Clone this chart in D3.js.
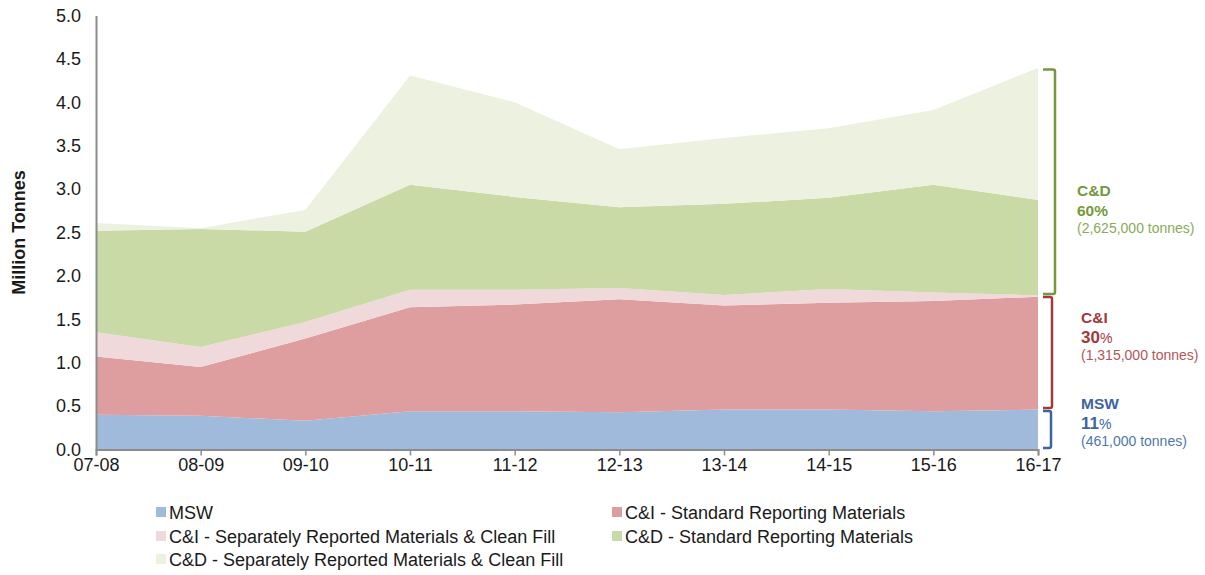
<!DOCTYPE html>
<html>
<head>
<meta charset="utf-8">
<script src="https://cdn.jsdelivr.net/npm/d3@7"></script>
<style>
  body { margin: 0; background: #fff; }
  svg { display: block; font-family: "Liberation Sans", Arial, sans-serif; }
</style>
</head>
<body>
<div id="chart"></div>
<script>
// financial years
const years = ["07-08", "08-09", "09-10", "10-11", "11-12", "12-13", "13-14", "14-15", "15-16", "16-17"];

// million tonnes per stream
const msw = [0.40, 0.39, 0.33, 0.44, 0.44, 0.43, 0.46, 0.46, 0.44, 0.46];
const ciStandard = [0.67, 0.56, 0.95, 1.20, 1.23, 1.30, 1.20, 1.23, 1.27, 1.30];
const ciSeparate = [0.28, 0.23, 0.19, 0.20, 0.17, 0.13, 0.12, 0.16, 0.10, 0.015];
const cdStandard = [1.17, 1.36, 1.04, 1.21, 1.07, 0.93, 1.05, 1.05, 1.24, 1.10];
const cdSeparate = [0.09, 0.01, 0.25, 1.26, 1.09, 0.67, 0.76, 0.80, 0.86, 1.52];

const seriesNames = [
  "MSW",
  "C&I - Standard Reporting Materials",
  "C&I - Separately Reported Materials & Clean Fill",
  "C&D - Standard Reporting Materials",
  "C&D - Separately Reported Materials & Clean Fill"
];
const yTicks = [0, 0.5, 1, 1.5, 2, 2.5, 3, 3.5, 4, 4.5, 5];

// 16-17 summary
const summaryNames = ["C&D", "C&I", "MSW"];
const summaryPct = ["60", "30", "11"];
const summaryTonnes = ["(2,625,000 tonnes)", "(1,315,000 tonnes)", "(461,000 tonnes)"];

const fills = ["#a0badb", "#de9d9e", "#f0d9da", "#c9daa6", "#ecf1e0"];

const width = 1205, height = 575;
const margin = { top: 15.5, left: 96, right: 167, bottom: 125.5 };

const table = years.map((y, i) => ({
  year: y, s0: msw[i], s1: ciStandard[i], s2: ciSeparate[i], s3: cdStandard[i], s4: cdSeparate[i]
}));
const keys = ["s0", "s1", "s2", "s3", "s4"];
const stacked = d3.stack().keys(keys)(table);

const svg = d3.select("#chart").append("svg")
  .attr("width", width)
  .attr("height", height);

const x = d3.scalePoint()
  .domain(years)
  .range([margin.left, width - margin.right]);

const y = d3.scaleLinear()
  .domain([0, 5])
  .range([height - margin.bottom, margin.top]);

const area = d3.area()
  .x(d => x(d.data.year))
  .y0(d => y(d[0]))
  .y1(d => y(d[1]));

svg.append("g")
  .selectAll("path")
  .data(stacked)
  .join("path")
  .attr("fill", (d, i) => fills[i])
  .attr("d", area);

// axes
const xAxis = svg.append("g")
  .attr("transform", `translate(0, ${y(0)})`)
  .call(d3.axisBottom(x).tickSize(6).tickPadding(3));
xAxis.select(".domain").attr("stroke", "#8c8c8c").attr("stroke-width", 2);
xAxis.selectAll(".tick line").attr("stroke", "#8c8c8c").attr("stroke-width", 1.5);
xAxis.selectAll("text").attr("font-size", 18).attr("fill", "#1a1a1a")
  .attr("font-family", "Liberation Sans, Arial, sans-serif");

const yAxis = svg.append("g")
  .attr("transform", `translate(${margin.left}, 0)`)
  .call(d3.axisLeft(y).tickValues(yTicks).tickFormat(d3.format(".1f")).tickSize(0).tickPadding(15));
yAxis.select(".domain").attr("stroke", "#8c8c8c").attr("stroke-width", 2);
yAxis.selectAll("text").attr("font-size", 18).attr("fill", "#1a1a1a")
  .attr("font-family", "Liberation Sans, Arial, sans-serif");

svg.append("text")
  .attr("transform", `translate(25, ${(y(0) + y(5)) / 2}) rotate(-90)`)
  .attr("text-anchor", "middle")
  .attr("font-size", 18)
  .attr("font-weight", "bold")
  .attr("fill", "#1a1a1a")
  .text("Million Tonnes");

// brackets on the right for the last year
const last = table[table.length - 1];
const cumMsw = last.s0;
const cumCi = last.s0 + last.s1 + last.s2;
const cumCd = cumCi + last.s3 + last.s4;
const brackets = [
  { lo: cumCi, hi: cumCd, color: "#76983c", sub: "#8aaa58", xv: 1055, textY: 196 },
  { lo: cumMsw, hi: cumCi, color: "#a23a3a", sub: "#b25656", xv: 1052, textY: 323 },
  { lo: 0, hi: cumMsw, color: "#3d64a0", sub: "#4f77ae", xv: 1051, textY: 409 }
];
const x0 = x(years[years.length - 1]) + 5;

brackets.forEach((b, i) => {
  const top = y(b.hi) + 1.5, bot = y(b.lo) - 1.5;
  svg.append("path")
    .attr("fill", "none")
    .attr("stroke", b.color)
    .attr("stroke-width", 2.5)
    .attr("d", `M${x0},${top} L${b.xv - 2},${top} Q${b.xv},${top} ${b.xv},${top + 2} L${b.xv},${bot - 2} Q${b.xv},${bot} ${b.xv - 2},${bot} L${x0},${bot}`);

  const tx = i === 0 ? 1077 : 1081;
  const g = svg.append("g").attr("transform", `translate(${tx}, ${b.textY})`);
  g.append("text")
    .attr("font-size", 15.5).attr("font-weight", "bold").attr("fill", b.color)
    .text(summaryNames[i]);
  const p = g.append("text").attr("y", 19.5).attr("fill", b.color);
  if (i === 0) {
    p.attr("font-size", 15.5).attr("font-weight", "bold").text(summaryPct[i] + "%");
  } else {
    p.append("tspan").attr("font-size", 17).attr("font-weight", "bold").text(summaryPct[i]);
    p.append("tspan").attr("font-size", 14).text("%");
  }
  g.append("text").attr("y", 37).attr("font-size", 14).attr("fill", b.sub)
    .text(summaryTonnes[i]);
});

// legend
const legendPos = [[156, 512], [612, 512], [156, 536], [612, 536], [156, 559]];
const legend = svg.append("g")
  .selectAll("g")
  .data(seriesNames)
  .join("g")
  .attr("transform", (d, i) => `translate(${legendPos[i][0]}, ${legendPos[i][1]})`);
legend.append("rect")
  .attr("x", 0).attr("y", -5).attr("width", 10).attr("height", 10)
  .attr("fill", (d, i) => fills[i]);
legend.append("text")
  .attr("x", 13).attr("y", 6.5)
  .attr("font-size", 18)
  .attr("fill", "#1a1a1a")
  .text(d => d);
</script>
</body>
</html>
